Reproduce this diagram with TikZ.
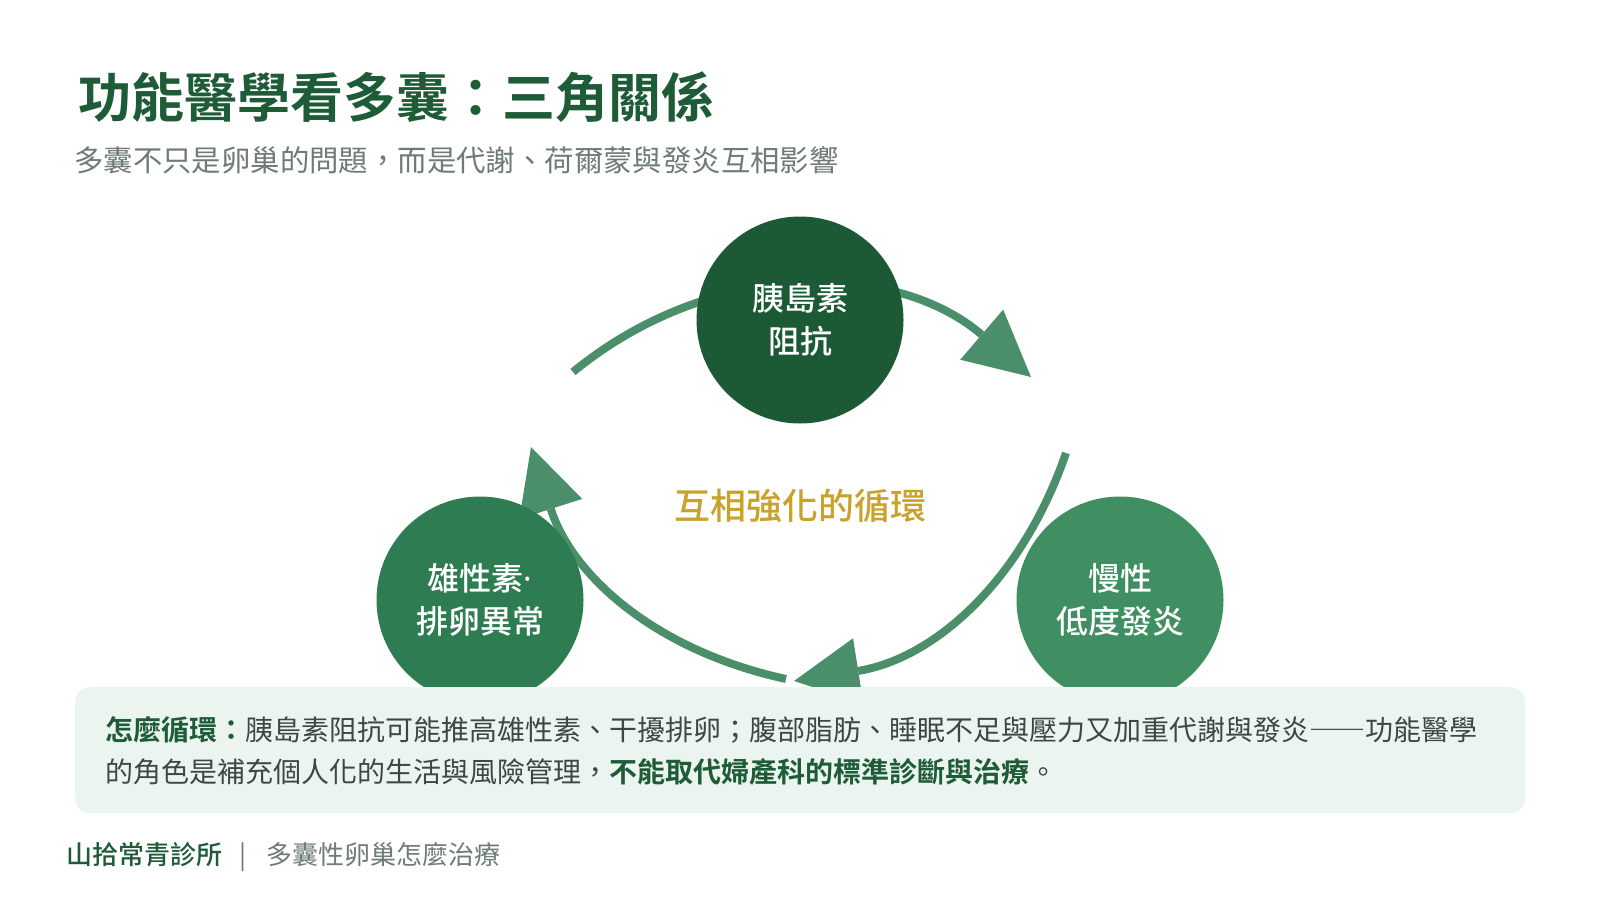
\documentclass[tikz,border=0pt]{standalone}
\usepackage{fontspec}
\setmainfont{Noto Sans CJK TC}[BoldFont={Noto Sans CJK TC Bold}]
\newfontfamily\medfont{Noto Sans CJK TC Medium}
\newfontfamily\dotfont{Noto Sans}
\usepackage{tikz}
\usetikzlibrary{arrows.meta}
\definecolor{deepgreen}{HTML}{1B5A35}
\definecolor{midgreen}{HTML}{2E7D52}
\definecolor{softgreen}{HTML}{3F8F62}
\definecolor{arcgreen}{HTML}{4A8F6A}
\definecolor{titlegreen}{HTML}{1E5C37}
\definecolor{loopgold}{HTML}{C9A22A}
\definecolor{notefill}{HTML}{EBF4EE}
\definecolor{subgray}{HTML}{6E7C74}
\definecolor{bodygray}{HTML}{3E4842}
\tikzstyle{factor}=[shape=circle,minimum size=207pt,inner sep=0pt,text=white,align=center,font=\medfont\fontsize{32}{43}\selectfont]
\tikzstyle{cycleedge}=[draw=arcgreen,line width=8pt,-{Triangle[length=65pt,width=66pt,line width=0pt]}]
\tikzstyle{plaintext}=[anchor=west,inner sep=0pt]

\begin{document}
\begin{tikzpicture}[x=1pt,y=1pt]
\fill[white] (0,0) rectangle (1600,-907);
\useasboundingbox (0,0) rectangle (1600,-907);
% heading
\node[plaintext,text=titlegreen,font=\bfseries\fontsize{53}{60}\selectfont] (title) at (78,-97) {功能醫學看多囊：三角關係};
\node[plaintext,text=subgray,font=\fontsize{29.4}{35}\selectfont] (subtitle) at (74,-160) {多囊不只是卵巢的問題，而是代謝、荷爾蒙與發炎互相影響};
% loop
\coordinate (a0) at (573,-372);
\coordinate (a1) at (1031,-377);
\coordinate (b0) at (1066,-453);
\coordinate (b1) at (794,-681);
\coordinate (c0) at (786,-679);
\coordinate (c1) at (531,-447);
\draw[cycleedge] (a0) to[bend left=40] (a1);
\draw[cycleedge] (b0) to[bend left=31] (b1);
\draw[cycleedge] (c0) to[bend left=30] (c1);
\node[factor,fill=deepgreen] (insulin) at (800,-320) {胰島素\\阻抗};
\node[factor,fill=midgreen] (androgen) at (480,-600) {雄性素{\dotfont ·}\\排卵異常};
\node[factor,fill=softgreen] (inflam) at (1120,-600) {慢性\\低度發炎};
\node[text=loopgold,font=\medfont\fontsize{36}{42}\selectfont] (loop) at (800,-506) {互相強化的循環};
% note
\node[fill=notefill,rounded corners=15pt,minimum width=1450pt,minimum height=126pt,anchor=north west,inner sep=0pt] (note) at (75,-687) {};
\node[plaintext,align=left,text=bodygray,font=\fontsize{28}{42}\selectfont] (notetext) at (105,-751) {{\bfseries\color{titlegreen}怎麼循環：}胰島素阻抗可能推高雄性素、干擾排卵；腹部脂肪、睡眠不足與壓力又加重代謝與發炎――功能醫學\\的角色是補充個人化的生活與風險管理，{\bfseries\color{titlegreen}不能取代婦產科的標準診斷與治療}。};
% footer
\node[plaintext,text=titlegreen,font=\medfont\fontsize{26}{32}\selectfont] (clinic) at (66,-855) {山拾常青診所};
\node[text=subgray,inner sep=0pt,font=\fontsize{26}{32}\selectfont] (bar) at (243,-857) {|};
\node[plaintext,text=subgray,font=\fontsize{26}{32}\selectfont] (topic) at (266,-855) {多囊性卵巢怎麼治療};
\end{tikzpicture}
\end{document}
